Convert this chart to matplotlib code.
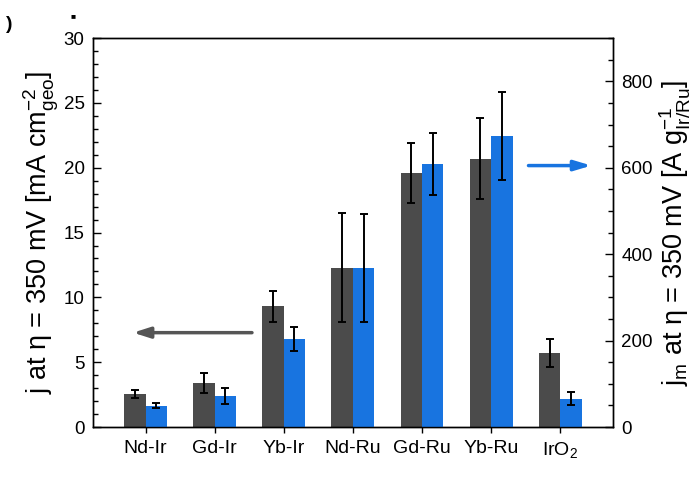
import numpy as np
import matplotlib
matplotlib.use("Agg")
import matplotlib.pyplot as plt
from matplotlib.ticker import MultipleLocator

plt.rcParams["font.family"] = ["Liberation Sans", "DejaVu Sans"]
plt.rcParams["mathtext.fontset"] = "custom"
plt.rcParams["mathtext.rm"] = "Liberation Sans"
plt.rcParams["mathtext.it"] = "Liberation Sans"

categories = ["Nd-Ir", "Gd-Ir", "Yb-Ir", "Nd-Ru", "Gd-Ru", "Yb-Ru", r"IrO$_2$"]

# geometric current density, mA cm-2 (left axis)
j_geo = [2.55, 3.4, 9.3, 12.3, 19.6, 20.7, 5.7]
j_geo_err = [0.3, 0.8, 1.2, 4.2, 2.3, 3.1, 1.1]

# mass activity, A g-1 (right axis)
j_mass = [49, 72, 204, 367, 609, 674, 66]
j_mass_err = [6, 18, 27, 125, 71, 102, 14]

DARK = "#4b4b4b"
BLUE = "#1874e0"


def main():
    fig = plt.figure(figsize=(6.94, 4.82), dpi=100)
    ax = fig.add_axes([0.134, 0.114, 0.749, 0.807])
    ax2 = ax.twinx()

    x = np.arange(1, len(categories) + 1)
    w = 0.31

    ax.bar(x - w / 2, j_geo, w, color=DARK, zorder=2)
    ax.errorbar(x - w / 2, j_geo, yerr=j_geo_err, fmt="none", ecolor="black",
                elinewidth=1.4, capsize=3, capthick=1.4, zorder=3)

    ax2.bar(x + w / 2, j_mass, w, color=BLUE, zorder=2)
    ax2.errorbar(x + w / 2, j_mass, yerr=j_mass_err, fmt="none", ecolor="black",
                 elinewidth=1.4, capsize=3, capthick=1.4, zorder=3)

    ax.set_xlim(0.24, 7.76)
    ax.set_ylim(0, 30)
    ax2.set_ylim(0, 900)

    ax.set_xticks(x)
    ax.set_xticklabels(categories, fontsize=14)
    ax.tick_params(axis="x", direction="out", length=4, width=1, pad=5)

    ax.yaxis.set_major_locator(MultipleLocator(5))
    ax.yaxis.set_minor_locator(MultipleLocator(1))
    ax.tick_params(axis="y", which="major", direction="in", length=6, width=1,
                   labelsize=13.5, right=False, pad=6)
    ax.tick_params(axis="y", which="minor", direction="in", length=3.5, width=1,
                   right=False)

    ax2.yaxis.set_major_locator(MultipleLocator(200))
    ax2.yaxis.set_minor_locator(MultipleLocator(50))
    ax2.tick_params(axis="y", which="major", direction="in", length=6, width=1,
                    labelsize=13.5, pad=6)
    ax2.tick_params(axis="y", which="minor", direction="in", length=3.5, width=1)

    ax.set_ylabel(r"j at η = 350 mV [mA cm$^{-2}_{geo}$]", fontsize=19.5, labelpad=2)
    ax2.set_ylabel(r"j$_m$ at η = 350 mV [A g$^{-1}_{Ir/Ru}$]", fontsize=19.5, labelpad=4)

    # arrows pointing to the matching axis
    ax.annotate("", xy=(0.78, 7.28), xytext=(2.58, 7.28),
                arrowprops=dict(arrowstyle="-|>,head_length=1.0,head_width=0.32",
                                color="#555555", lw=2.5), zorder=4)
    ax2.annotate("", xy=(7.49, 605), xytext=(6.5, 605),
                 arrowprops=dict(arrowstyle="-|>,head_length=1.0,head_width=0.3",
                                 color=BLUE, lw=2.5), zorder=4)

    for a in (ax, ax2):
        for s in a.spines.values():
            s.set_linewidth(1.0)

    fig.text(0.008, 0.94, ")", fontsize=14, weight="bold")
    fig.text(0.102, 0.962, "■", fontsize=6)

    fig.savefig("out.png", dpi=100)
    plt.close(fig)


if __name__ == "__main__":
    main()
